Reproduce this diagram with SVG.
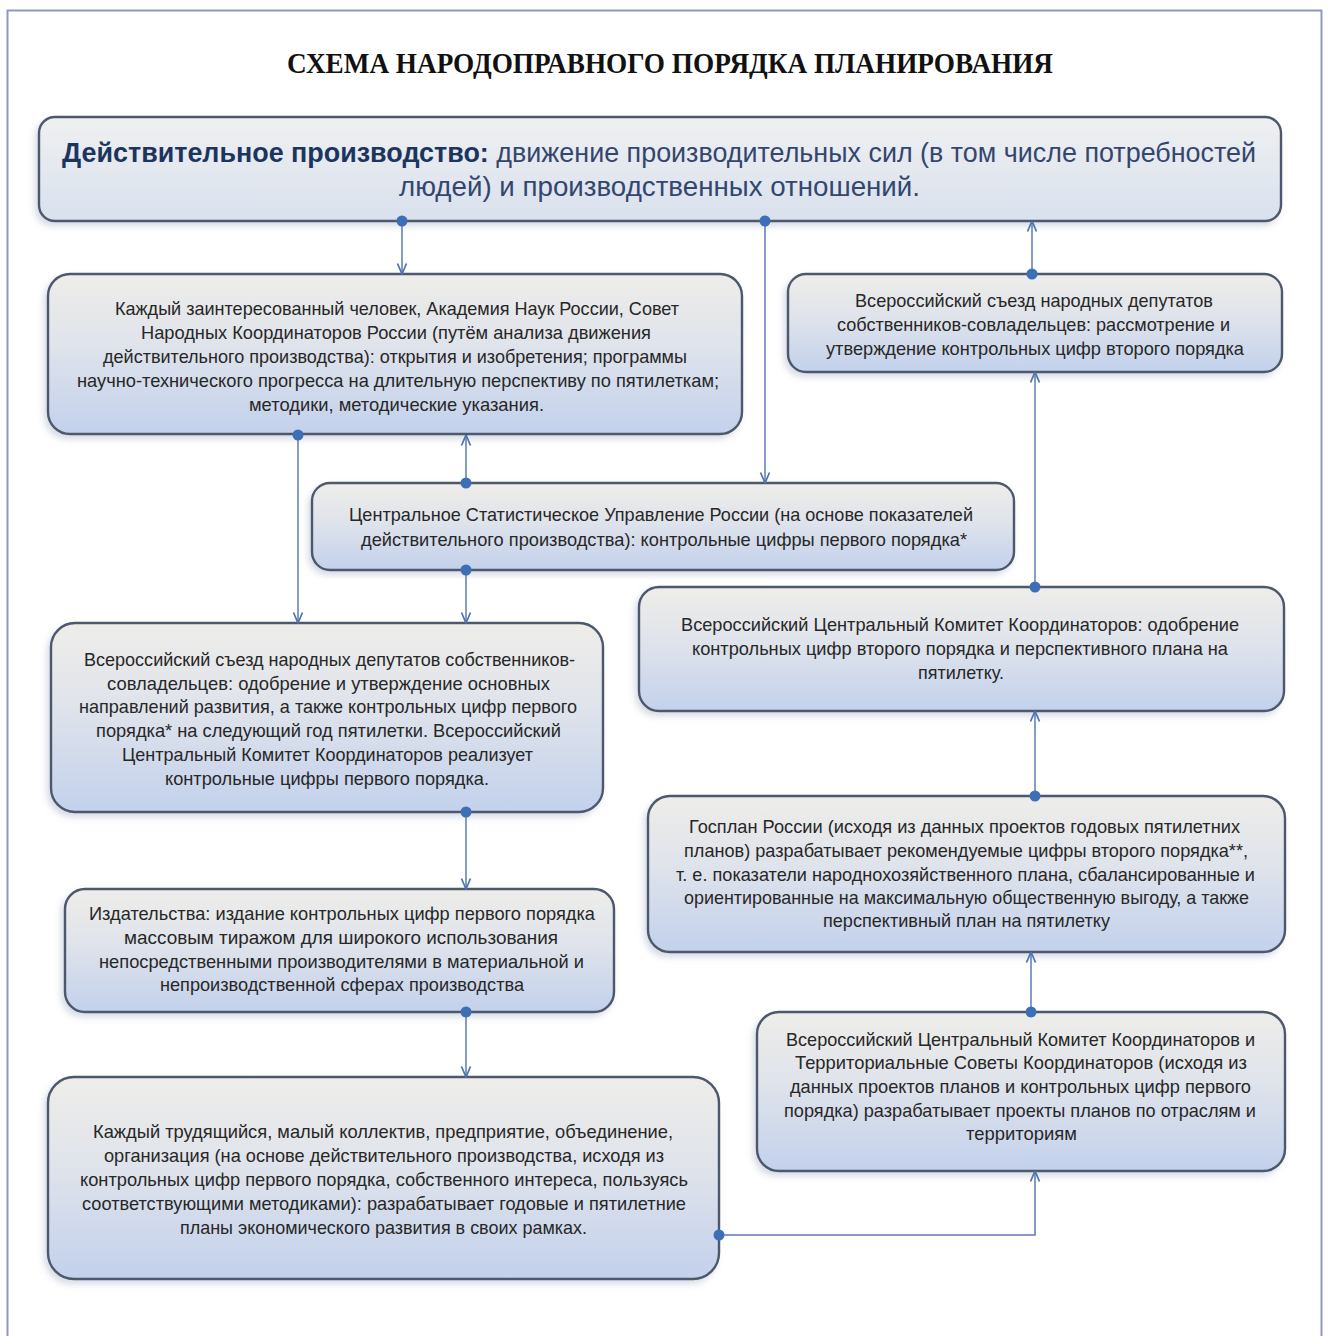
<svg xmlns="http://www.w3.org/2000/svg" width="1330" height="1336" viewBox="0 0 1330 1336">
<defs>
<linearGradient id="gBox" x1="0" y1="0" x2="0" y2="1">
<stop offset="0" stop-color="#eeede9"/>
<stop offset="0.45" stop-color="#dfe3eb"/>
<stop offset="1" stop-color="#c3d1ec"/>
</linearGradient>
<linearGradient id="gTop" x1="0" y1="0" x2="0" y2="1">
<stop offset="0" stop-color="#eff0f1"/>
<stop offset="1" stop-color="#d9e1ee"/>
</linearGradient>
<filter id="sh" x="-5%" y="-5%" width="110%" height="115%">
<feDropShadow dx="-3" dy="4" stdDeviation="3" flood-color="#7a8aa8" flood-opacity="0.3"/>
</filter>
<marker id="arr" viewBox="0 0 12 12" refX="11.5" refY="6" markerWidth="12" markerHeight="12" markerUnits="userSpaceOnUse" orient="auto">
<path d="M1,1.5 L11.5,6 L1,10.5" fill="none" stroke="#4f72ad" stroke-width="1.7"/>
</marker>
<marker id="dot" viewBox="0 0 12 12" refX="6" refY="6" markerWidth="12" markerHeight="12" markerUnits="userSpaceOnUse">
<circle cx="6" cy="6" r="5.5" fill="#3d6fb6"/>
</marker>
</defs>
<style>
.box{fill:url(#gBox);stroke:#4d586c;stroke-width:2.4;filter:url(#sh)}
.topbox{fill:url(#gTop);stroke:#4d586c;stroke-width:2.4;filter:url(#sh)}
.t{font-family:"Liberation Sans",Arial,sans-serif;font-size:18.5px;fill:#272727}
.title{font-family:"Liberation Serif","Times New Roman",serif;font-size:29px;font-weight:bold;fill:#111}
.big{font-family:"Liberation Sans",Arial,sans-serif;font-size:27px;fill:#34466e}
.bigb{font-weight:bold;fill:#1c355e}
.c{fill:none;stroke:#5a7cb5;stroke-width:1.5;marker-start:url(#dot);marker-end:url(#arr)}
</style>
<rect x="0" y="0" width="1330" height="1336" fill="#ffffff"/>
<rect x="7.5" y="10.5" width="1314" height="1345" fill="#ffffff" stroke="#8e98bd" stroke-width="2"/>

<g id="title">
<text class="title" x="287" y="73" textLength="766" lengthAdjust="spacingAndGlyphs">СХЕМА НАРОДОПРАВНОГО ПОРЯДКА ПЛАНИРОВАНИЯ</text>
</g>

<g id="node-production">
<rect class="topbox" x="39" y="117" width="1242" height="104" rx="16"/>
<text class="big" x="62" y="162" textLength="1194" lengthAdjust="spacingAndGlyphs"><tspan class="bigb">Действительное производство:</tspan> движение производительных сил (в том числе потребностей</text>
<text class="big" x="399" y="196" textLength="521" lengthAdjust="spacingAndGlyphs">людей) и производственных отношений.</text>
</g>

<g id="node-academy">
<rect class="box" x="48" y="274" width="694" height="160" rx="22"/>
<text class="t" x="115" y="315" textLength="564" lengthAdjust="spacingAndGlyphs">Каждый заинтересованный человек, Академия Наук России, Совет</text>
<text class="t" x="141" y="339" textLength="510" lengthAdjust="spacingAndGlyphs">Народных  Координаторов России (путём анализа движения</text>
<text class="t" x="103" y="363" textLength="584" lengthAdjust="spacingAndGlyphs">действительного производства): открытия и изобретения; программы</text>
<text class="t" x="77" y="387" textLength="642" lengthAdjust="spacingAndGlyphs">научно-технического прогресса на длительную перспективу по пятилеткам;</text>
<text class="t" x="249" y="411" textLength="295" lengthAdjust="spacingAndGlyphs">методики, методические указания.</text>
</g>

<g id="node-csu">
<rect class="box" x="312" y="483" width="702" height="87" rx="18"/>
<text class="t" x="349" y="521" textLength="624" lengthAdjust="spacingAndGlyphs">Центральное Статистическое Управление России (на основе показателей</text>
<text class="t" x="361" y="546" textLength="606" lengthAdjust="spacingAndGlyphs">действительного производства): контрольные цифры первого порядка*</text>
</g>

<g id="node-congress1">
<rect class="box" x="51" y="623" width="552" height="189" rx="24"/>
<text class="t" x="84" y="666" textLength="491" lengthAdjust="spacingAndGlyphs">Всероссийский съезд народных депутатов собственников-</text>
<text class="t" x="107" y="690" textLength="443" lengthAdjust="spacingAndGlyphs">совладельцев: одобрение и утверждение основных</text>
<text class="t" x="79" y="713" textLength="498" lengthAdjust="spacingAndGlyphs">направлений развития, а также контрольных цифр первого</text>
<text class="t" x="96" y="737" textLength="465" lengthAdjust="spacingAndGlyphs">порядка* на следующий год пятилетки. Всероссийский</text>
<text class="t" x="122" y="761" textLength="411" lengthAdjust="spacingAndGlyphs">Центральный Комитет Координаторов реализует</text>
<text class="t" x="165" y="785" textLength="324" lengthAdjust="spacingAndGlyphs">контрольные цифры первого порядка.</text>
</g>

<g id="node-publishers">
<rect class="box" x="65" y="889" width="549" height="123" rx="20"/>
<text class="t" x="89" y="920" textLength="506" lengthAdjust="spacingAndGlyphs">Издательства:  издание контрольных цифр первого порядка</text>
<text class="t" x="124" y="944" textLength="434" lengthAdjust="spacingAndGlyphs">массовым тиражом для широкого использования</text>
<text class="t" x="99" y="968" textLength="485" lengthAdjust="spacingAndGlyphs">непосредственными производителями в материальной и</text>
<text class="t" x="160" y="991" textLength="364" lengthAdjust="spacingAndGlyphs">непроизводственной сферах производства</text>
</g>

<g id="node-workers">
<rect class="box" x="48" y="1077" width="671" height="202" rx="26"/>
<text class="t" x="93" y="1138" textLength="580" lengthAdjust="spacingAndGlyphs">Каждый трудящийся, малый коллектив, предприятие, объединение,</text>
<text class="t" x="104" y="1162" textLength="560" lengthAdjust="spacingAndGlyphs">организация (на основе действительного производства, исходя из</text>
<text class="t" x="80" y="1186" textLength="608" lengthAdjust="spacingAndGlyphs">контрольных цифр первого порядка, собственного интереса, пользуясь</text>
<text class="t" x="82" y="1210" textLength="604" lengthAdjust="spacingAndGlyphs">соответствующими методиками): разрабатывает годовые и пятилетние</text>
<text class="t" x="180" y="1234" textLength="407" lengthAdjust="spacingAndGlyphs">планы экономического развития в своих рамках.</text>
</g>

<g id="node-congress2">
<rect class="box" x="788" y="274" width="494" height="98" rx="18"/>
<text class="t" x="855" y="307" textLength="358" lengthAdjust="spacingAndGlyphs">Всероссийский съезд народных депутатов</text>
<text class="t" x="837" y="331" textLength="393" lengthAdjust="spacingAndGlyphs">собственников-совладельцев: рассмотрение и</text>
<text class="t" x="826" y="355" textLength="418" lengthAdjust="spacingAndGlyphs">утверждение контрольных цифр второго порядка</text>
</g>

<g id="node-vckk-approve">
<rect class="box" x="639" y="587" width="645" height="124" rx="20"/>
<text class="t" x="681" y="631" textLength="558" lengthAdjust="spacingAndGlyphs">Всероссийский Центральный Комитет Координаторов: одобрение</text>
<text class="t" x="692" y="655" textLength="536" lengthAdjust="spacingAndGlyphs">контрольных цифр второго порядка и перспективного плана на</text>
<text class="t" x="918" y="679" textLength="86" lengthAdjust="spacingAndGlyphs">пятилетку.</text>
</g>

<g id="node-gosplan">
<rect class="box" x="648" y="796" width="637" height="156" rx="22"/>
<text class="t" x="689" y="833" textLength="551" lengthAdjust="spacingAndGlyphs">Госплан России (исходя из данных проектов годовых пятилетних</text>
<text class="t" x="684" y="857" textLength="564" lengthAdjust="spacingAndGlyphs">планов)  разрабатывает  рекомендуемые цифры второго порядка**,</text>
<text class="t" x="676" y="881" textLength="579" lengthAdjust="spacingAndGlyphs">т. е. показатели народнохозяйственного плана, сбалансированные и</text>
<text class="t" x="684" y="904" textLength="565" lengthAdjust="spacingAndGlyphs">ориентированные на максимальную общественную выгоду, а также</text>
<text class="t" x="823" y="927" textLength="287" lengthAdjust="spacingAndGlyphs">перспективный план на пятилетку</text>
</g>

<g id="node-vckk-territorial">
<rect class="box" x="757" y="1012" width="528" height="159" rx="22"/>
<text class="t" x="786" y="1046" textLength="469" lengthAdjust="spacingAndGlyphs">Всероссийский Центральный Комитет Координаторов и</text>
<text class="t" x="795" y="1069" textLength="452" lengthAdjust="spacingAndGlyphs">Территориальные Советы Координаторов (исходя из</text>
<text class="t" x="790" y="1093" textLength="461" lengthAdjust="spacingAndGlyphs">данных проектов планов и контрольных цифр первого</text>
<text class="t" x="784" y="1117" textLength="472" lengthAdjust="spacingAndGlyphs">порядка) разрабатывает  проекты планов по отраслям и</text>
<text class="t" x="966" y="1140" textLength="111" lengthAdjust="spacingAndGlyphs">территориям</text>
</g>

<g id="connectors">
<path class="c" d="M402,221 V274"/>
<path class="c" d="M765,221 V483"/>
<path class="c" d="M1032,274 V221"/>
<path class="c" d="M298,435 V623"/>
<path class="c" d="M466,483 V435"/>
<path class="c" d="M466,570 V623"/>
<path class="c" d="M1035,587 V372"/>
<path class="c" d="M1035,796 V711"/>
<path class="c" d="M1031,1012 V952"/>
<path class="c" d="M466,812 V889"/>
<path class="c" d="M466,1012 V1077"/>
<path class="c" d="M719,1235 H1035 V1171"/>
</g>
</svg>
